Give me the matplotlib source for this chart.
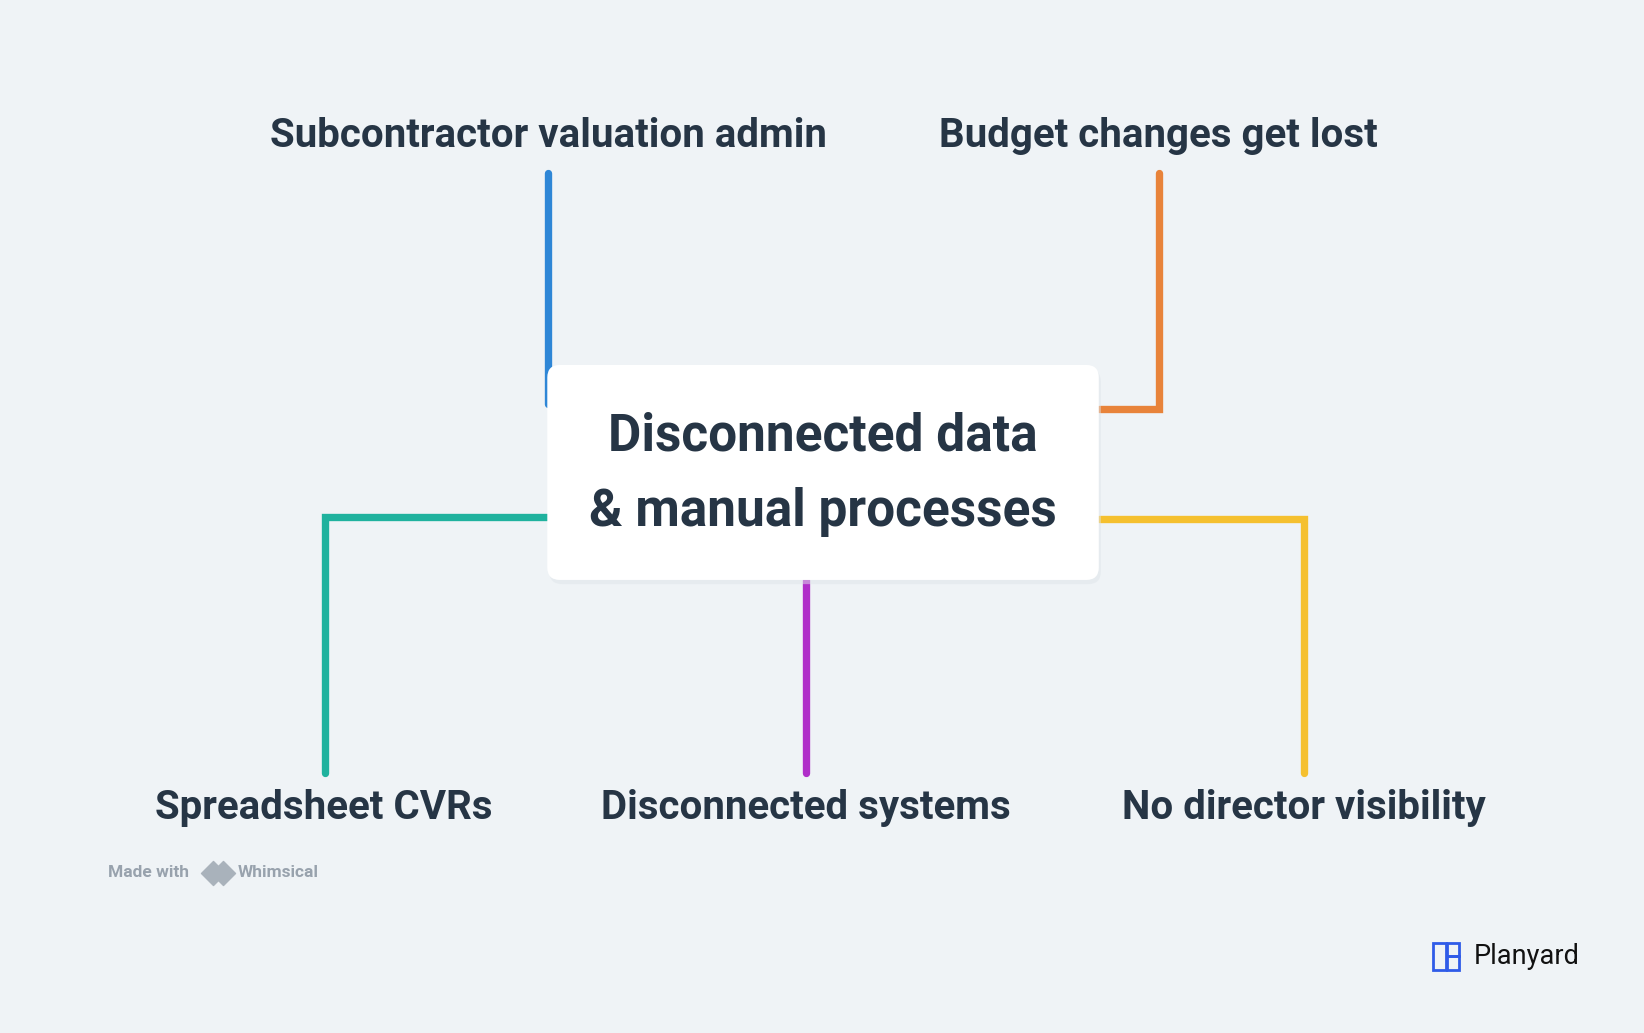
import matplotlib.pyplot as plt
from matplotlib.patches import FancyBboxPatch, Rectangle

plt.rcParams['font.family'] = ['Roboto', 'DejaVu Sans']

W, H = 1568, 985
s = 1644 / W  # px scale to output

center_text = "Disconnected data\n& manual processes"
labels = ["Subcontractor valuation admin", "Budget changes get lost",
          "Spreadsheet CVRs", "Disconnected systems", "No director visibility"]
label_x = [523, 1105, 309, 769, 1244]
label_y = [130, 130, 770, 770, 770]
colors = ["#2e86d6", "#e8833a", "#1fb29e", "#b02fc9", "#f5c02f"]
# connector polylines (reference pixel coords)
paths = [
    ([523, 523], [165, 385]),
    ([1105, 1105, 1048], [165, 390, 390]),
    ([522, 310, 310], [493, 493, 737]),
    ([769, 769], [553, 737]),
    ([1048, 1244, 1244], [495, 495, 737]),
]

fig = plt.figure(figsize=(16.44, 10.33), dpi=100)
fig.patch.set_facecolor('#eff3f6')
ax = fig.add_axes([0, 0, 1, 1])
ax.set_xlim(0, W)
ax.set_ylim(H, 0)
ax.axis('off')

lw = 7 * s * 0.72
for (xs, ys), c in zip(paths, colors):
    ax.plot(xs, ys, color=c, lw=lw, solid_capstyle='round', solid_joinstyle='miter', zorder=1)

# central box with faint shadow
ax.add_patch(FancyBboxPatch((524, 352), 526, 205, boxstyle="round,pad=0,rounding_size=12",
                            fc='#dfe5ea', ec='none', alpha=0.5, zorder=2))
ax.add_patch(FancyBboxPatch((522, 348), 526, 205, boxstyle="round,pad=0,rounding_size=12",
                            fc='white', ec='none', zorder=3))
ax.text(785, 452, center_text, ha='center', va='center', fontsize=37, fontweight='bold',
        color='#263545', linespacing=1.65, zorder=4)

for t, x, y in zip(labels, label_x, label_y):
    ax.text(x, y, t, ha='center', va='center', fontsize=29, fontweight='bold', color='#263545')

# footer marks
ax.text(103, 832, "Made with", ha='left', va='center', fontsize=12.5, fontweight='bold', color='#98a2ad')
ax.scatter([203, 213], [832, 832], marker='D', s=150, color='#a9b2bb', zorder=2)
ax.text(227, 832, "Whimsical", ha='left', va='center', fontsize=12.5, fontweight='bold', color='#98a2ad')

for (x0, y0, w, h) in [(1367, 899, 12, 26), (1380, 899, 12, 13), (1380, 912, 12, 13)]:
    ax.add_patch(Rectangle((x0, y0), w, h, fill=False, ec='#2f5be8', lw=2))
ax.text(1406, 912, "Planyard", ha='left', va='center', fontsize=19.5, color='#111111')

fig.savefig('out.png', dpi=100, facecolor=fig.get_facecolor())
